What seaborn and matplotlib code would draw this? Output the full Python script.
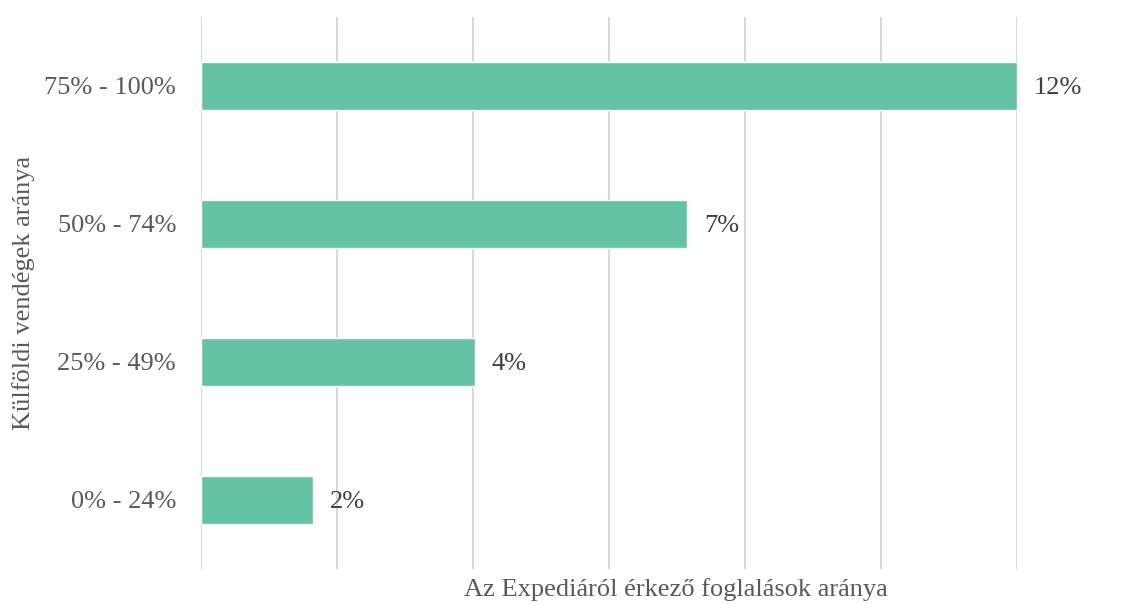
import matplotlib
matplotlib.use("Agg")
import matplotlib.pyplot as plt
import seaborn as sns
import pandas as pd

# Share of foreign guests (categories, top to bottom)
categories = ["75% - 100%", "50% - 74%", "25% - 49%", "0% - 24%"]
# Share of bookings coming from Expedia, in percent
shares = [12.0, 7.15, 4.03, 1.65]

df = pd.DataFrame({"kat": categories, "arany": shares})

sns.set_theme(style="white")
plt.rcParams["font.family"] = ["Liberation Serif", "DejaVu Serif"]

FS = 19

fig = plt.figure(figsize=(11.47, 6.04), dpi=100)
ax = fig.add_axes([201 / 1147, 1 - 569 / 604, 816 / 1147, 552 / 604])

sns.barplot(data=df, x="arany", y="kat", order=categories, orient="h",
            color="#66c2a5", saturation=1, width=0.35, ax=ax, zorder=2)

ax.set_xlim(0, 12)
ax.set_ylim(3.5, -0.5)
ax.set_xticks(range(0, 13, 2))
ax.set_xticklabels([])
ax.grid(axis="x", color="#d9d9d9", linewidth=1.5, zorder=0)
ax.grid(axis="y", visible=False)
ax.set_axisbelow(True)
for s in ax.spines.values():
    s.set_visible(False)
ax.tick_params(axis="both", length=0)
ax.tick_params(axis="y", pad=18, labelsize=FS, labelcolor="#595959")

for i, v in enumerate(shares):
    ax.annotate(f"{v:.0f}%", xy=(v, i), xytext=(12, -1.5), textcoords="offset points",
                ha="left", va="center", fontsize=FS, color="#404040",
                annotation_clip=False)

ax.set_xlabel("Az Expediáról érkező foglalások aránya", fontsize=FS, color="#595959")
ax.xaxis.set_label_coords(0.582, -0.038)
ax.xaxis.label.set_va("center")
ax.set_ylabel("Külföldi vendégek aránya", fontsize=FS, color="#595959")
ax.yaxis.set_label_coords(-0.218, 0.5)
ax.yaxis.label.set_va("center")

fig.savefig("out.png", dpi=100)
